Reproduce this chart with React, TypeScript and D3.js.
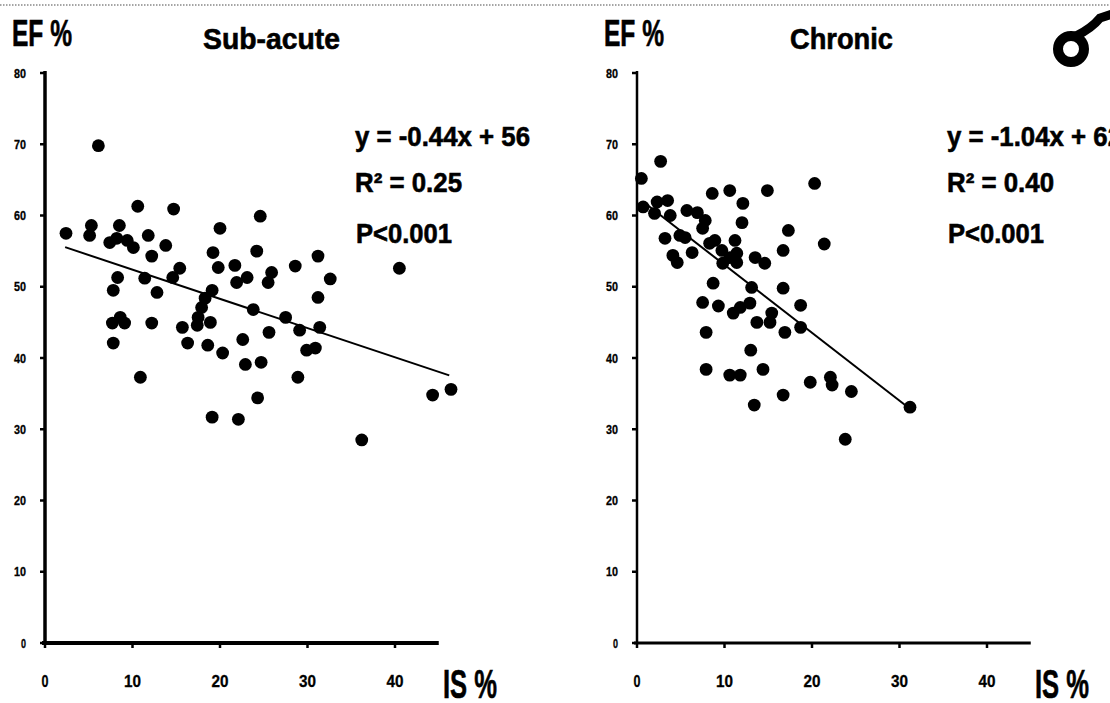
import React, { useEffect, useRef } from "react";
import * as d3 from "d3";

// Sub-acute panel: infarct size (IS %) vs ejection fraction (EF %)
const subAcuteIS = [
  2.4, 6.1, 5.3, 5.1, 10.6, 14.7, 8.5, 7.4, 8.2, 9.4, 10.1, 11.8, 12.2, 13.8, 15.4, 14.6, 11.4,
  8.3, 7.8, 12.8, 7.7, 8.6, 9.1, 7.8, 12.2, 10.9, 20.0, 24.6, 24.2, 19.2, 19.8, 21.7, 21.9,
  23.1, 25.9, 25.5, 28.6, 31.2, 32.6, 31.2, 19.1, 18.3, 17.9, 17.5, 17.4, 18.9, 15.7, 16.3,
  18.6, 20.3, 22.6, 22.9, 24.7, 23.8, 25.6, 27.5, 29.1, 31.4, 29.9, 30.9, 28.9, 24.3, 19.1,
  22.1, 36.2, 40.5, 44.3, 46.4,
];
const subAcuteEF = [
  57.5, 69.8, 58.6, 57.2, 61.3, 60.9, 58.6, 56.2, 56.8, 56.5, 55.5, 57.2, 54.3, 55.8, 52.6, 51.3, 51.2,
  51.3, 49.5, 49.2, 44.9, 45.7, 44.9, 42.1, 44.9, 37.3, 58.2, 59.9, 55.0, 54.8, 52.7, 53.0, 50.6,
  51.3, 52.0, 50.6, 52.9, 54.3, 51.1, 48.5, 49.5, 48.4, 47.1, 45.7, 44.6, 45.0, 44.3, 42.1,
  41.8, 40.7, 42.6, 39.1, 39.4, 46.8, 43.6, 45.7, 43.9, 44.3, 41.1, 41.4, 37.3, 34.4, 31.7,
  31.4, 28.5, 52.6, 34.8, 35.6,
];

// Chronic panel
const chronicIS = [
  2.7, 0.5, 0.7, 2.3, 3.5, 3.8, 3.2, 4.1, 4.6, 6.3, 5.5, 5.7, 6.9, 7.8, 7.5, 8.6, 10.6, 12.1,
  12.0, 14.9, 8.9, 9.7, 10.6, 11.2, 11.4, 11.4, 9.8, 13.5, 14.6, 17.3, 16.7, 20.3, 21.4, 8.7,
  7.5, 9.3, 13.1, 12.9, 11.8, 11.0, 13.7, 15.4, 15.2, 16.7, 16.9, 18.7, 18.7, 7.9, 13.0, 7.9,
  10.6, 11.8, 14.4, 16.7, 13.4, 19.8, 22.1, 22.3, 24.5, 23.8, 31.2, 2.0, 4.9, 8.3,
];
const chronicEF = [
  67.6, 65.2, 61.2, 61.9, 62.1, 60.0, 56.8, 54.4, 53.4, 54.8, 56.9, 60.7, 60.4, 59.3, 58.2, 63.1, 63.5, 61.7,
  59.0, 63.5, 56.5, 55.1, 54.1, 56.5, 54.7, 53.4, 53.3, 54.1, 53.3, 57.9, 55.1, 64.5, 56.0, 50.5,
  47.8, 47.3, 49.9, 47.7, 47.1, 46.3, 45.0, 46.3, 45.0, 49.8, 43.6, 47.4, 44.3, 43.6, 41.1, 38.4,
  37.6, 37.6, 38.4, 34.8, 33.4, 36.6, 37.3, 36.2, 35.3, 28.6, 33.1, 60.3, 57.2, 56.1,
];

const xTicks = [0, 10, 20, 30, 40];
const yTicks = [0, 10, 20, 30, 40, 50, 60, 70, 80];

// regression lines as drawn in the figure
const subAcuteFit = { slope: -0.41, intercept: 56.5, from: 2.3, to: 46.2 };
const chronicFit = { slope: -0.953, intercept: 62.6, from: 0.7, to: 30.6 };

const subAcuteStats = ["y = -0.44x + 56", "R² = 0.25", "P<0.001"];
const chronicStats = ["y = -1.04x + 62", "R² = 0.40", "P<0.001"];

const FONT = "'Liberation Sans Narrow', 'Liberation Sans', Arial, sans-serif";

type Fit = { slope: number; intercept: number; from: number; to: number };

const addText = (g: any, str: string, x: number, y: number, size: number, width: number, anchor = "start") =>
  g.append("text")
    .attr("x", x)
    .attr("y", y)
    .attr("font-family", FONT)
    .attr("font-weight", "bold")
    .attr("font-size", size)
    .attr("text-anchor", anchor)
    .attr("textLength", width)
    .attr("lengthAdjust", "spacingAndGlyphs")
    .attr("fill", "#000")
    .attr("stroke", "#000")
    .attr("stroke-width", size > 20 ? 0.6 : 0.3)
    .text(str);

const drawPanel = (
  svg: any,
  opts: {
    left: number;
    xs: number[];
    ys: number[];
    fit: Fit;
    title: string;
    titleX: number;
    titleW: number;
    stats: string[];
    axisW: number;
  }
) => {
  const { left, xs, ys, fit, title, titleX, titleW, stats, axisW } = opts;
  const x = d3.scaleLinear().domain([0, 45]).range([left, left + 393.75]);
  const y = d3.scaleLinear().domain([0, 80]).range([643, 73]);
  const g = svg.append("g");

  // axes
  g.append("line")
    .attr("x1", x(0)).attr("x2", x(0)).attr("y1", y(80) - 2).attr("y2", y(0))
    .attr("stroke", "#000").attr("stroke-width", axisW - 0.5);
  g.append("line")
    .attr("x1", x(0) - 3).attr("x2", x(45)).attr("y1", y(0)).attr("y2", y(0))
    .attr("stroke", "#000").attr("stroke-width", axisW);

  g.selectAll(".yt").data(yTicks).enter().append("line")
    .attr("x1", x(0) - 5).attr("x2", x(0)).attr("y1", (d: number) => y(d)).attr("y2", (d: number) => y(d))
    .attr("stroke", "#000").attr("stroke-width", 2.5);
  g.selectAll(".xt").data(xTicks).enter().append("line")
    .attr("x1", (d: number) => x(d)).attr("x2", (d: number) => x(d)).attr("y1", y(0)).attr("y2", y(0) + 5)
    .attr("stroke", "#000").attr("stroke-width", 2.5);

  yTicks.forEach((t) => addText(g, String(t), x(0) - 19, y(t) + 4.5, 13, t === 0 ? 5 : 12, "end"));
  xTicks.forEach((t) => addText(g, String(t), x(t), 687, 17, t === 0 ? 7 : 17, "middle"));

  // trend line
  g.append("line")
    .attr("x1", x(fit.from)).attr("y1", y(fit.slope * fit.from + fit.intercept))
    .attr("x2", x(fit.to)).attr("y2", y(fit.slope * fit.to + fit.intercept))
    .attr("stroke", "#000").attr("stroke-width", 2);

  // points
  g.selectAll(".dot").data(xs).enter().append("circle")
    .attr("cx", (d: number) => x(d))
    .attr("cy", (_: number, i: number) => y(ys[i]))
    .attr("r", 6.4)
    .attr("fill", "#000");

  // labels
  addText(g, "EF %", left - 33, 46, 36, 60);
  addText(g, title, titleX, 49, 29, titleW, "middle");
  const sx = left + 310;
  addText(g, stats[0], sx, 146, 28, 175);
  addText(g, stats[1], sx, 192, 28, 107);
  addText(g, stats[2], sx + 1, 243, 28, 96);
  addText(g, "IS %", left + 398, 698, 40, 54);
};

const App = () => {
  const ref = useRef<SVGSVGElement>(null);

  useEffect(() => {
    const svg = d3.select(ref.current);
    svg.selectAll("*").remove();

    svg.append("rect").attr("width", 1110).attr("height", 703).attr("fill", "#fff");
    svg.append("line")
      .attr("x1", 0).attr("x2", 1110).attr("y1", 5).attr("y2", 5)
      .attr("stroke", "#888").attr("stroke-width", 1.5).attr("stroke-dasharray", "1.5,1.5");

    drawPanel(svg, {
      left: 45, xs: subAcuteIS, ys: subAcuteEF, fit: subAcuteFit,
      title: "Sub-acute", titleX: 271.5, titleW: 137, stats: subAcuteStats, axisW: 4,
    });
    drawPanel(svg, {
      left: 637, xs: chronicIS, ys: chronicEF, fit: chronicFit,
      title: "Chronic", titleX: 841.5, titleW: 103, stats: chronicStats, axisW: 3,
    });

    // male symbol, cut at the right edge
    const m = svg.append("g");
    m.append("circle").attr("cx", 1071).attr("cy", 49).attr("r", 13)
      .attr("fill", "none").attr("stroke", "#000").attr("stroke-width", 10);
    m.append("path")
      .attr("d", "M1076,36 Q1092,28 1100,18 L1112,14")
      .attr("fill", "none").attr("stroke", "#000").attr("stroke-width", 9);
  }, []);

  return (
    <svg
      ref={ref}
      width={1110}
      height={703}
      style={{ position: "absolute", left: 0, top: 0, display: "block" }}
    />
  );
};

export default App;
